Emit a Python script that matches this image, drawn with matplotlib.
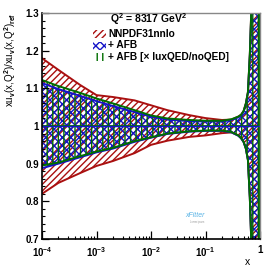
import matplotlib
matplotlib.use('Agg')
import matplotlib.pyplot as plt
from matplotlib.patches import Rectangle
from matplotlib.ticker import FixedLocator, NullFormatter
import numpy as np

# x grid and band edges (ratio to reference)
x = [1e-4, 2e-4, 5e-4, 1e-3, 2e-3, 5e-3, 1e-2, 2e-2, 5e-2, 0.1, 0.2, 0.3,
     0.4, 0.45, 0.5, 0.55, 0.6, 0.65, 0.7, 0.8, 0.9, 0.97]

nnpdf_up = [1.18, 1.149, 1.109, 1.082, 1.077, 1.068, 1.055, 1.042, 1.029, 1.021, 1.016, 1.017,
            1.025, 1.03, 1.04, 1.06, 1.09, 1.19, 1.33, 1.6, 1.9, 2.1]
nnpdf_dn = [0.82, 0.849, 0.875, 0.894, 0.907, 0.928, 0.95, 0.961, 0.971, 0.975, 0.981, 0.983,
            0.975, 0.968, 0.958, 0.94, 0.91, 0.81, 0.67, 0.4, 0.1, -0.1]

afb_up = [1.114, 1.098, 1.08, 1.066, 1.053, 1.037, 1.025, 1.017, 1.013, 1.012, 1.012, 1.016,
          1.023, 1.028, 1.038, 1.058, 1.088, 1.185, 1.32, 1.6, 1.9, 2.1]
afb_dn = [0.888, 0.9, 0.917, 0.93, 0.94, 0.958, 0.969, 0.979, 0.985, 0.987, 0.987, 0.983,
          0.974, 0.967, 0.957, 0.94, 0.91, 0.81, 0.67, 0.4, 0.1, -0.1]

qed_up = [1.122, 1.106, 1.088, 1.073, 1.06, 1.042, 1.028, 1.02, 1.016, 1.014, 1.014, 1.018,
          1.025, 1.03, 1.04, 1.06, 1.09, 1.19, 1.33, 1.6, 1.9, 2.1]
qed_dn = [0.895, 0.903, 0.92, 0.932, 0.942, 0.96, 0.97, 0.98, 0.986, 0.988, 0.988, 0.984,
          0.975, 0.968, 0.958, 0.94, 0.91, 0.81, 0.67, 0.4, 0.1, -0.1]

labels = ["NNPDF31nnlo", "+ AFB", "+ AFB [\u00d7 luxQED/noQED]"]
colors = ['#aa1010', '#1414c8', '#006e00']
hatches = ['/////', 'xxxx', '|||']

plt.rcParams['font.family'] = ['Liberation Sans', 'DejaVu Sans']
plt.rcParams['font.weight'] = 'bold'
plt.rcParams['mathtext.fontset'] = 'custom'
plt.rcParams['mathtext.rm'] = 'Liberation Sans:bold'
plt.rcParams['mathtext.bf'] = 'Liberation Sans:bold'
plt.rcParams['mathtext.it'] = 'Liberation Sans:bold'
plt.rcParams['hatch.linewidth'] = 1.0

W, H = 274, 266
fig = plt.figure(figsize=(W / 100, H / 100), dpi=100)
ax = fig.add_axes([0.1533, 0.1015, 0.7957, 0.8496])

bands = [(nnpdf_up, nnpdf_dn), (afb_up, afb_dn), (qed_up, qed_dn)]
for (up, dn), c, h in zip(bands, colors, hatches):
    ax.fill_between(x, dn, up, facecolor='none', edgecolor=c, hatch=h, linewidth=0)
    ax.plot(x, up, color=c, lw=1.4)
    ax.plot(x, dn, color=c, lw=1.4)
    ax.plot([x[-1], x[-1]], [0.6, 1.4], color=c, lw=1.4)

ax.plot([x[0], x[-1]], [1, 1], color=colors[2], lw=1.3)
ax.plot([x[0], x[-1]], [1, 1], color=colors[1], lw=1.0)

ax.set_xscale('log')
ax.set_xlim(1e-4, 1)
ax.set_ylim(0.7, 1.3)

ax.xaxis.set_major_locator(FixedLocator([1e-4, 1e-3, 1e-2, 1e-1, 1]))
ax.set_xticklabels([r'$10^{-4}$', r'$10^{-3}$', r'$10^{-2}$', r'$10^{-1}$', '1'])
minors = [m * 10.0 ** e for e in range(-4, 0) for m in range(2, 10)]
ax.xaxis.set_minor_locator(FixedLocator(minors))
ax.xaxis.set_minor_formatter(NullFormatter())
ax.set_yticks([0.7, 0.8, 0.9, 1.0, 1.1, 1.2, 1.3])
ax.set_yticklabels(['0.7', '0.8', '0.9', '1', '1.1', '1.2', '1.3'])
ax.set_yticks(np.arange(0.7, 1.301, 0.02), minor=True)

ax.tick_params(which='both', direction='in', top=False, right=False, labelsize=7, pad=2)
ax.tick_params(which='major', length=5, width=0.9)
ax.tick_params(which='minor', length=2.5, width=0.8)
ax.tick_params(axis='x', which='major', length=6, pad=4.5)

for s in ['left', 'bottom']:
    ax.spines[s].set_linewidth(1.2)
for s in ['top', 'right']:
    ax.spines[s].set_color('#888888')
    ax.spines[s].set_linewidth(1.0)

ax.set_ylabel(r'xu$_v$(x,Q$^2$)/xu$_v$(x,Q$^2$)$_{ref}$', fontsize=7, loc='top')
ax.yaxis.set_label_coords(-0.11, 1.0)
ax.set_xlabel('x', fontsize=7.5, loc='right')
ax.xaxis.set_label_coords(0.955, -0.08)

# title and legend (figure pixel positions)
fig.text(148 / W, 1 - 19 / H, r'Q$^2$ = 8317 GeV$^2$', fontsize=7.5, ha='center', va='center')
rows_y = [34, 45.5, 57]
for lab, c, h, yy in zip(labels, colors, hatches, rows_y):
    fig.patches.append(Rectangle((93 / W, 1 - (yy + 4) / H), 13 / W, 8 / H,
                                 transform=fig.transFigure, facecolor='none',
                                 edgecolor=c, hatch=h, linewidth=0))
    fig.text(108 / W, 1 - yy / H, lab, fontsize=7.3, ha='left', va='center')

# xFitter logo
fig.text(0.713, 0.185, 'xFitter', fontsize=5, color='#5ab4e6', style='italic',
         weight='normal', ha='center')
fig.text(0.72, 0.163, 'Lorem ipsum', fontsize=1.8, color='#999999', weight='normal',
         ha='center')

plt.savefig('out.png', dpi=100)
